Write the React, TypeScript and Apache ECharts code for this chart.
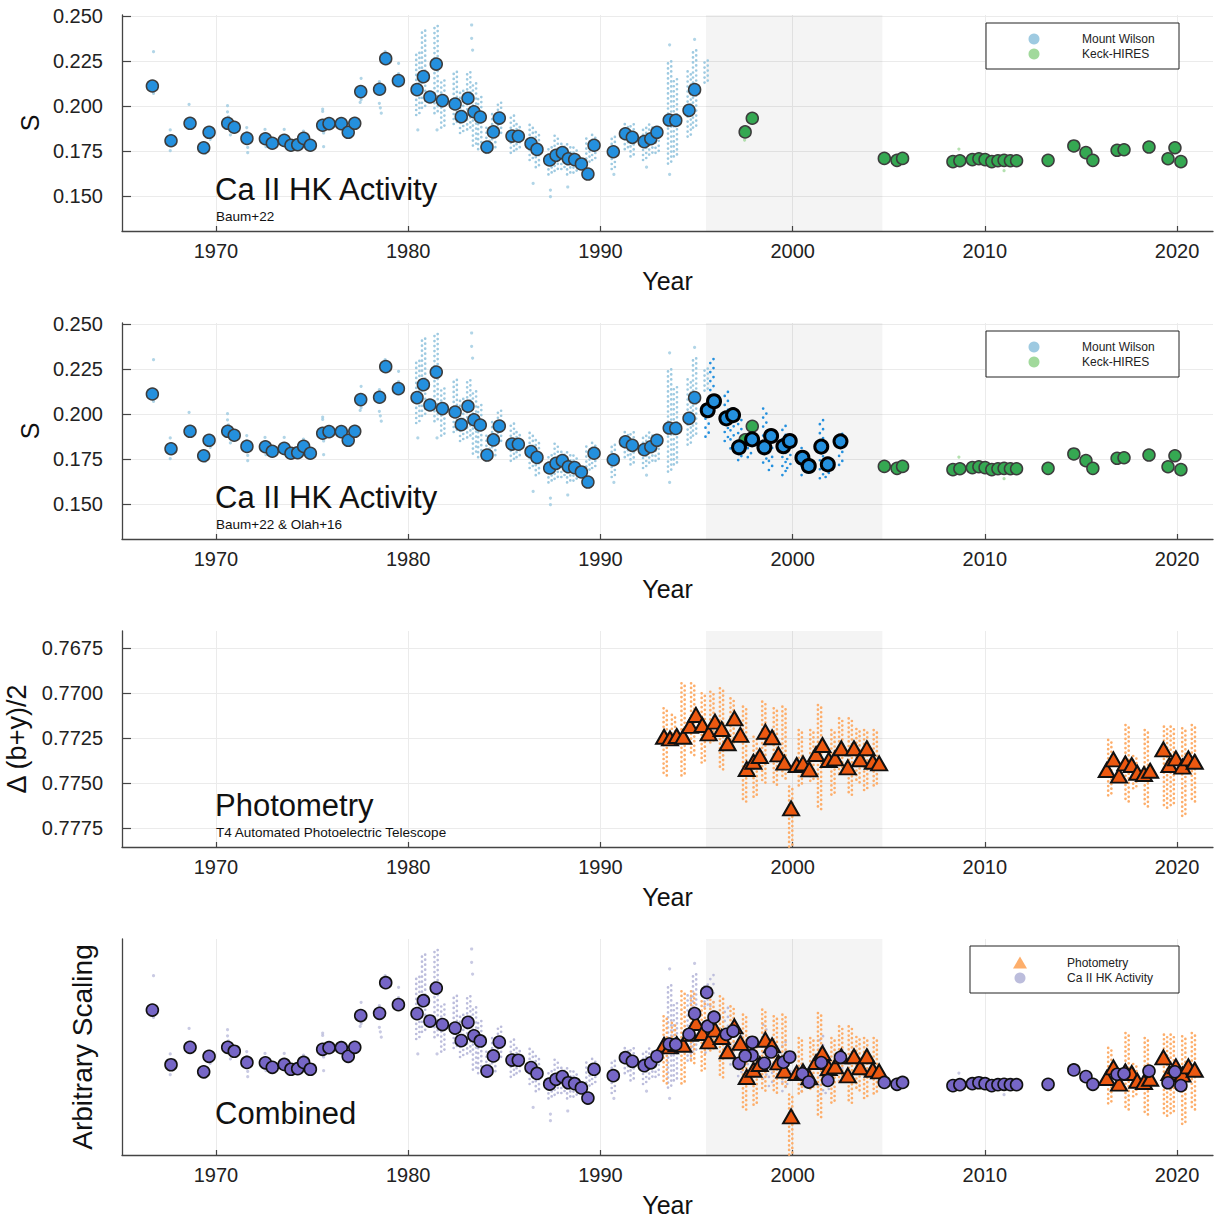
import React, { useEffect, useRef } from "react";
import * as echarts from "echarts";

// ---------- axes / ticks ----------
const X_MIN = 1965.11;
const X_MAX = 2021.87;
const X_TICKS = [1970, 1980, 1990, 2000, 2010, 2020];
const S_MIN = 0.13056;
const S_MAX = 0.25056;
const S_TICKS = [0.15, 0.175, 0.2, 0.225, 0.25];
const P_MIN = 0.766556;
const P_MAX = 0.778556;
const P_TICKS = [0.7675, 0.77, 0.7725, 0.775, 0.7775];
const SHADE = [1995.49, 2004.67];

// ---------- Mount Wilson (Baum+22) seasonal means [year, S] ----------
const MW_MEANS: [number, number][] = [
  [1966.69, 0.2111], [1967.66, 0.1807], [1968.65, 0.1904], [1969.36, 0.1768], [1969.64, 0.1854],
  [1970.61, 0.1904], [1970.95, 0.1882], [1971.61, 0.182], [1972.57, 0.1818], [1972.93, 0.1793],
  [1973.55, 0.1809], [1973.9, 0.1782], [1974.25, 0.1785], [1974.56, 0.182], [1974.91, 0.1782],
  [1975.55, 0.1893], [1975.88, 0.1902], [1976.52, 0.1902], [1976.88, 0.1854], [1977.22, 0.1904],
  [1977.53, 0.208], [1978.51, 0.2093], [1978.83, 0.2263], [1979.49, 0.2141], [1980.46, 0.2091],
  [1980.79, 0.2163], [1981.13, 0.205], [1981.46, 0.2233], [1981.78, 0.203], [1982.44, 0.2011],
  [1982.76, 0.1941], [1983.11, 0.2043], [1983.42, 0.1968], [1983.75, 0.1939], [1984.1, 0.1772],
  [1984.43, 0.1856], [1984.74, 0.1933], [1985.4, 0.1833], [1985.73, 0.1832], [1986.39, 0.1791],
  [1986.7, 0.1759], [1987.36, 0.17], [1987.69, 0.1726], [1988.02, 0.1741], [1988.33, 0.1707],
  [1988.66, 0.1702], [1989.01, 0.1678], [1989.35, 0.1622], [1989.67, 0.1782], [1990.67, 0.1746],
  [1991.3, 0.1846], [1991.66, 0.1826], [1992.28, 0.1802], [1992.62, 0.1818], [1992.94, 0.1854],
  [1993.58, 0.1922], [1993.92, 0.192], [1994.61, 0.1976], [1994.9, 0.2091],
];

// individual Mount Wilson nightly values (sparse seasons and outliers) [year, S]
const MW_DOTS: [number, number][] = [
  [1966.75, 0.2302], [1966.75, 0.207], [1967.62, 0.1867], [1967.62, 0.1752], [1968.6, 0.2009],
  [1969.45, 0.1737], [1969.7, 0.187], [1969.7, 0.1815], [1970.6, 0.2002], [1970.6, 0.1968],
  [1970.65, 0.194], [1970.75, 0.1839], [1971.6, 0.188], [1971.6, 0.1852], [1971.65, 0.177],
  [1971.65, 0.1741], [1972.55, 0.187], [1972.6, 0.1774], [1973.55, 0.187], [1973.6, 0.1774],
  [1974.55, 0.1861], [1974.6, 0.1774], [1975.55, 0.1983], [1975.55, 0.197], [1975.6, 0.185],
  [1975.6, 0.1774], [1976.5, 0.193], [1976.9, 0.183], [1977.55, 0.2154], [1977.55, 0.2035],
  [1977.5, 0.202], [1978.5, 0.2135], [1978.5, 0.2015], [1978.55, 0.199], [1978.6, 0.196],
  [1978.8, 0.2302], [1978.8, 0.2237], [1979.5, 0.2237], [1979.5, 0.218], [1980.5, 0.1867],
  [1981.5, 0.1867], [1983.3, 0.245], [1983.3, 0.2376], [1983.35, 0.2311], [1987.4, 0.1533],
  [1987.4, 0.1496], [1986.5, 0.157], [1988.3, 0.155], [1989.4, 0.162], [1990.7, 0.162],
  [1993.6, 0.162], [1993.6, 0.234], [1994.9, 0.237], [1992.4, 0.166],
];

// dense Mount Wilson seasons: [year, lowest S, highest S]
const MW_STRIPS: [number, number, number][] = [
  [1980.5, 0.195, 0.23], [1980.8, 0.199, 0.242], [1981.45, 0.196, 0.245], [1981.8, 0.188, 0.215],
  [1982.45, 0.19, 0.22], [1982.78, 0.185, 0.21], [1983.15, 0.187, 0.22], [1983.45, 0.178, 0.213],
  [1983.72, 0.176, 0.205], [1984.15, 0.174, 0.188], [1984.45, 0.176, 0.196], [1984.75, 0.184, 0.203],
  [1985.42, 0.174, 0.196], [1985.72, 0.176, 0.19], [1986.4, 0.17, 0.19], [1986.72, 0.166, 0.186],
  [1987.38, 0.162, 0.178], [1987.7, 0.164, 0.184], [1988.05, 0.165, 0.18], [1988.35, 0.162, 0.179],
  [1988.68, 0.163, 0.177], [1989.35, 0.168, 0.183], [1989.65, 0.17, 0.185], [1990.67, 0.165, 0.183],
  [1991.35, 0.176, 0.19], [1991.65, 0.172, 0.19], [1992.3, 0.17, 0.188], [1992.62, 0.173, 0.19],
  [1992.95, 0.174, 0.189], [1993.6, 0.168, 0.225], [1993.9, 0.172, 0.215], [1994.62, 0.183, 0.22],
  [1994.9, 0.188, 0.232], [1995.5, 0.213, 0.226],
];

// ---------- Keck-HIRES ----------
const KECK_MEANS: [number, number][] = [
  [1997.53, 0.1856], [1997.9, 0.1932], [2004.77, 0.1709], [2005.43, 0.1698], [2005.72, 0.1709],
  [2008.34, 0.1691], [2008.7, 0.1696], [2009.35, 0.1702], [2009.69, 0.1707], [2010.01, 0.1702],
  [2010.36, 0.1691], [2010.68, 0.1696], [2011.0, 0.1698], [2011.33, 0.1696], [2011.65, 0.1696],
  [2013.29, 0.1698], [2014.63, 0.1778], [2015.26, 0.1741], [2015.62, 0.1698], [2016.88, 0.1754],
  [2017.24, 0.1757], [2018.54, 0.1772], [2019.53, 0.1707], [2019.89, 0.1768], [2020.2, 0.1691],
];
const KECK_DOTS: [number, number][] = [[1997.5, 0.1811], [2008.65, 0.1761], [2011.0, 0.1641]];

// ---------- Olah+16 ----------
const OLAH_MEANS: [number, number][] = [
  [1995.58, 0.2021], [1995.91, 0.2071], [1996.55, 0.1976], [1996.9, 0.1994], [1997.21, 0.1815],
  [1997.89, 0.1859], [1998.53, 0.1815], [1998.88, 0.1878], [1999.52, 0.1821], [1999.85, 0.185],
  [2000.51, 0.1757], [2000.84, 0.1711], [2001.49, 0.1819], [2001.83, 0.172], [2002.49, 0.1848],
];
const OLAH_STRIPS: [number, number, number][] = [
  [1995.55, 0.1874, 0.2022], [1995.8, 0.2133, 0.2315], [1996.55, 0.185, 0.2143], [1996.85, 0.1809, 0.205],
  [1997.25, 0.1744, 0.1985], [1997.75, 0.176, 0.19], [1998.55, 0.173, 0.2041], [1998.85, 0.1689, 0.188],
  [1999.55, 0.1661, 0.1957], [1999.8, 0.17, 0.186], [2000.55, 0.1661, 0.1828], [2001.5, 0.1643, 0.1967],
  [2001.8, 0.165, 0.176], [2002.5, 0.1717, 0.1902],
];
// additional seasonal point shown only in the combined panel
const COMBINED_EXTRA: [number, number][] = [[1995.53, 0.2209]];

// ---------- T4 APT photometry, Δ(b+y)/2 ----------
const PHOT_MEANS: [number, number][] = [
  [1993.31, 0.77243], [1993.62, 0.77252], [1993.97, 0.77239], [1994.31, 0.77243], [1994.66, 0.77183],
  [1994.97, 0.77122], [1995.3, 0.77178], [1995.63, 0.77224], [1995.96, 0.77159], [1996.31, 0.772],
  [1996.62, 0.77279], [1996.97, 0.77141], [1997.28, 0.77233], [1997.61, 0.77422], [1997.96, 0.77382],
  [1998.29, 0.7735], [1998.58, 0.77215], [1998.93, 0.77246], [1999.26, 0.77341], [1999.57, 0.77387],
  [1999.92, 0.77641], [2000.21, 0.774], [2000.54, 0.77391], [2000.87, 0.77424], [2001.22, 0.77339],
  [2001.55, 0.77289], [2001.88, 0.77372], [2002.21, 0.77363], [2002.53, 0.77307], [2002.87, 0.77413],
  [2003.19, 0.77307], [2003.51, 0.77368], [2003.86, 0.77307], [2004.17, 0.77382], [2004.5, 0.77391],
  [2016.34, 0.77428], [2016.69, 0.77369], [2016.98, 0.77459], [2017.31, 0.77391], [2017.64, 0.774],
  [2017.93, 0.77443], [2018.28, 0.7745], [2018.6, 0.77432], [2019.29, 0.77313], [2019.6, 0.774],
  [2019.94, 0.77363], [2020.28, 0.77409], [2020.59, 0.77363], [2020.92, 0.77382],
];
const PHOT_STRIPS: [number, number, number][] = [
  [1993.37, 0.77085, 0.77465], [1993.8, 0.77122, 0.77289], [1994.3, 0.76946, 0.77465], [1994.8, 0.76946, 0.77354],
  [1995.35, 0.77002, 0.77391], [1995.8, 0.76993, 0.7728], [1996.3, 0.76974, 0.77428], [1996.85, 0.7703, 0.77298],
  [1997.5, 0.77076, 0.77613], [1998.05, 0.77243, 0.77576], [1998.5, 0.77048, 0.77502], [1999.1, 0.77085, 0.7752],
  [1999.55, 0.77076, 0.77483], [1999.9, 0.7752, 0.77854], [2000.4, 0.77206, 0.7752], [2001.0, 0.77206, 0.775],
  [2001.4, 0.77067, 0.7765], [2002.1, 0.77206, 0.77576], [2002.5, 0.77141, 0.7745], [2003.0, 0.77141, 0.77576],
  [2003.4, 0.772, 0.775], [2003.8, 0.77206, 0.7755], [2004.3, 0.77206, 0.7752],
  [2016.5, 0.77261, 0.77576], [2017.4, 0.77178, 0.77613], [2017.8, 0.7735, 0.7753], [2018.4, 0.77206, 0.77641],
  [2019.4, 0.77187, 0.77641], [2019.75, 0.77187, 0.7763], [2020.35, 0.77196, 0.77687], [2020.85, 0.77178, 0.77613],
];

// ---------- styling ----------
const FONT = '"Liberation Sans", Arial, Helvetica, sans-serif';
const C_MW_LIGHT = "#9ecae1";
const C_MW = "#2490de";
const C_KECK_LIGHT = "#a1d99b";
const C_KECK = "#35a852";
const C_PHOT_LIGHT = "#fdae6b";
const C_PHOT = "#ec5810";
const C_CA_LIGHT = "#bcbddc";
const C_CA = "#7666c6";
const GRID_TOPS = [15, 323, 631, 939];
const GRID_H = 216;
const GRID_LEFT = 122;
const GRID_W = 1091;

const stripRender = (color: string, gap: number) => (_p: any, api: any) => {
  const x = api.value(0);
  const a = api.coord([x, api.value(1)]);
  const b = api.coord([x, api.value(2)]);
  const mk = (dx: number, off: number) => ({
    type: "line",
    shape: { x1: a[0] + dx, y1: a[1], x2: b[0] + dx, y2: b[1] },
    style: { stroke: color, lineWidth: 2.7, lineDash: [0.01, gap], lineDashOffset: off, lineCap: "round", fill: null },
  });
  return { type: "group", children: [mk(-1.6, 0), mk(1.6, gap / 2)] };
};

const shade = {
  silent: true,
  itemStyle: { color: "rgba(0,0,0,0.045)" },
  data: [[{ xAxis: SHADE[0] }, { xAxis: SHADE[1] }]],
};

function stripSeries(data: any[], color: string, gap: number, xi: number, yi: number) {
  return {
    type: "custom",
    xAxisIndex: xi,
    yAxisIndex: yi,
    data,
    encode: { x: 0, y: [1, 2] },
    renderItem: stripRender(color, gap),
    silent: true,
  };
}
function dotSeries(data: any[], color: string, xi: number, yi: number, extra: any = {}) {
  return {
    type: "scatter",
    xAxisIndex: xi,
    yAxisIndex: yi,
    data,
    symbol: "circle",
    symbolSize: 3.2,
    itemStyle: { color },
    silent: true,
    ...extra,
  };
}
function markerSeries(data: any[], color: string, border: string, bw: number, xi: number, yi: number, symbol = "circle", size: any = 12) {
  return {
    type: "scatter",
    xAxisIndex: xi,
    yAxisIndex: yi,
    data,
    symbol,
    symbolSize: size,
    itemStyle: { color, borderColor: border, borderWidth: bw, opacity: 1 },
    silent: true,
  };
}

function xAxisCfg(gridIndex: number) {
  return {
    type: "value",
    gridIndex,
    min: X_MIN,
    max: X_MAX,
    name: "Year",
    nameLocation: "middle",
    nameGap: 37,
    nameTextStyle: { fontFamily: FONT, fontSize: 25, color: "#111" },
    axisLine: { show: true, onZero: false, lineStyle: { color: "#444", width: 1.3 } },
    axisTick: { show: true, inside: true, length: 5, customValues: X_TICKS, lineStyle: { color: "#444", width: 1.2 } },
    axisLabel: {
      show: true,
      customValues: X_TICKS,
      margin: 10,
      fontFamily: FONT,
      fontSize: 20,
      color: "#222",
      formatter: (v: number) => String(Math.round(v)),
    },
    splitLine: { show: true, lineStyle: { color: "#ebebeb", width: 1 } },
  };
}

function yAxisCfg(gridIndex: number, kind: "S" | "P" | "none" | "hidden") {
  const isP = kind === "P" || kind === "hidden";
  const ticks = isP ? P_TICKS : S_TICKS;
  const base: any = {
    type: "value",
    gridIndex,
    min: isP ? P_MIN : S_MIN,
    max: isP ? P_MAX : S_MAX,
    inverse: isP,
    axisLine: { show: kind !== "hidden", onZero: false, lineStyle: { color: "#444", width: 1.3 } },
    axisTick: {
      show: kind === "S" || kind === "P",
      inside: true,
      length: 9,
      customValues: ticks,
      lineStyle: { color: "#444", width: 1.2 },
    },
    axisLabel: {
      show: kind === "S" || kind === "P",
      customValues: ticks,
      margin: 19,
      fontFamily: FONT,
      fontSize: 20,
      color: "#222",
      formatter: (v: number) => (isP ? v.toFixed(4) : v.toFixed(3)),
    },
    splitLine: { show: kind === "S" || kind === "P", lineStyle: { color: "#ebebeb", width: 1 } },
  };
  if (kind === "S") {
    base.name = "S";
    base.nameLocation = "middle";
    base.nameGap = 79;
    base.nameTextStyle = { fontFamily: FONT, fontSize: 25, color: "#111" };
  } else if (kind === "P") {
    base.name = "Δ (b+y)/2";
    base.nameLocation = "middle";
    base.nameGap = 89;
    base.nameTextStyle = { fontFamily: FONT, fontSize: 27, color: "#111" };
  } else if (kind === "none") {
    base.name = "Arbitrary Scaling";
    base.nameLocation = "middle";
    base.nameGap = 26;
    base.nameTextStyle = { fontFamily: FONT, fontSize: 28, color: "#111" };
  }
  return base;
}

function txt(text: string, x: number, baseline: number, size: number) {
  return {
    type: "text",
    x,
    y: baseline - 0.35 * size,
    z: 50,
    silent: true,
    style: { text, fontFamily: FONT, fontSize: size, fill: "#111", align: "left", verticalAlign: "middle" },
  };
}

function legendBox(x: number, y: number, w: number, h: number, items: { label: string; color: string; shape: string; cy: number }[], markX: number, textX: number) {
  const children: any[] = [
    { type: "rect", shape: { x, y, width: w, height: h }, style: { fill: "#fff", stroke: "#222", lineWidth: 1 }, z: 40, silent: true },
  ];
  items.forEach((it) => {
    if (it.shape === "circle") {
      children.push({ type: "circle", shape: { cx: markX, cy: it.cy, r: 5.5 }, style: { fill: it.color }, z: 41, silent: true });
    } else {
      children.push({
        type: "polygon",
        shape: { points: [[markX, it.cy - 6.5], [markX + 7, it.cy + 5.5], [markX - 7, it.cy + 5.5]] },
        style: { fill: it.color },
        z: 41,
        silent: true,
      });
    }
    children.push({
      type: "text",
      x: textX,
      y: it.cy,
      z: 41,
      silent: true,
      style: { text: it.label, fontFamily: FONT, fontSize: 12, fill: "#222", align: "left", verticalAlign: "middle" },
    });
  });
  return children;
}

export default function App() {
  const ref = useRef<HTMLDivElement>(null);
  useEffect(() => {
    if (!ref.current) return;
    const chart = echarts.init(ref.current, undefined, { renderer: "svg" });
    const grids = GRID_TOPS.map((t) => ({
      left: GRID_LEFT,
      top: t,
      width: GRID_W,
      height: GRID_H,
      containLabel: false,
      outerBoundsMode: "none",
    }));

    const series: any[] = [
      // Panel 1
      { ...dotSeries(MW_DOTS, C_MW_LIGHT, 0, 0), markArea: shade },
      stripSeries(MW_STRIPS, C_MW_LIGHT, 5, 0, 0),
      dotSeries(KECK_DOTS, C_KECK_LIGHT, 0, 0),
      markerSeries(MW_MEANS, C_MW, "#3c3c3c", 1.5, 0, 0),
      markerSeries(KECK_MEANS, C_KECK, "#3c3c3c", 1.5, 0, 0),
      // Panel 2
      { ...dotSeries(MW_DOTS, C_MW_LIGHT, 1, 1), markArea: shade },
      stripSeries(MW_STRIPS, C_MW_LIGHT, 5, 1, 1),
      stripSeries(OLAH_STRIPS, C_MW, 9, 1, 1),
      dotSeries(KECK_DOTS, C_KECK_LIGHT, 1, 1),
      markerSeries(MW_MEANS, C_MW, "#3c3c3c", 1.5, 1, 1),
      markerSeries(KECK_MEANS, C_KECK, "#3c3c3c", 1.5, 1, 1),
      markerSeries(OLAH_MEANS, C_MW, "#000", 3, 1, 1, "circle", 13),
      // Panel 3
      { ...stripSeries(PHOT_STRIPS, C_PHOT_LIGHT, 4.6, 2, 2), markArea: shade },
      markerSeries(PHOT_MEANS, C_PHOT, "#111", 2, 2, 2, "triangle", [16, 14]),
      // Panel 4
      { ...dotSeries(MW_DOTS, C_CA_LIGHT, 3, 3), markArea: shade },
      stripSeries(MW_STRIPS, C_CA_LIGHT, 5, 3, 3),
      stripSeries(OLAH_STRIPS, C_CA_LIGHT, 9, 3, 3),
      dotSeries(KECK_DOTS, C_CA_LIGHT, 3, 3),
      stripSeries(PHOT_STRIPS, C_PHOT_LIGHT, 4.6, 3, 4),
      markerSeries(PHOT_MEANS, C_PHOT, "#111", 2, 3, 4, "triangle", [16, 14]),
      markerSeries(MW_MEANS, C_CA, "#111", 1.6, 3, 3),
      markerSeries(COMBINED_EXTRA, C_CA, "#111", 1.6, 3, 3),
      markerSeries(OLAH_MEANS, C_CA, "#111", 1.6, 3, 3),
      markerSeries(KECK_MEANS, C_CA, "#111", 1.6, 3, 3),
    ];

    const graphic: any[] = [
      txt("Ca II HK Activity", 215, 200.7, 31),
      txt("Baum+22", 216, 221, 13.5),
      txt("Ca II HK Activity", 215, 508.7, 31),
      txt("Baum+22 & Olah+16", 216, 529, 13.5),
      txt("Photometry", 215, 816.7, 31),
      txt("T4 Automated Photoelectric Telescope", 216, 837, 13.5),
      txt("Combined", 215, 1124.7, 31),
      ...legendBox(986, 23, 193, 46, [
        { label: "Mount Wilson", color: C_MW_LIGHT, shape: "circle", cy: 39 },
        { label: "Keck-HIRES", color: C_KECK_LIGHT, shape: "circle", cy: 54 },
      ], 1034, 1082),
      ...legendBox(986, 331, 193, 46, [
        { label: "Mount Wilson", color: C_MW_LIGHT, shape: "circle", cy: 347 },
        { label: "Keck-HIRES", color: C_KECK_LIGHT, shape: "circle", cy: 362 },
      ], 1034, 1082),
      ...legendBox(970, 946, 209, 47, [
        { label: "Photometry", color: C_PHOT_LIGHT, shape: "triangle", cy: 963 },
        { label: "Ca II HK Activity", color: C_CA_LIGHT, shape: "circle", cy: 978 },
      ], 1020, 1067),
    ];

    chart.setOption({
      animation: false,
      backgroundColor: "#fff",
      textStyle: { fontFamily: FONT },
      grid: grids,
      xAxis: [xAxisCfg(0), xAxisCfg(1), xAxisCfg(2), xAxisCfg(3)],
      yAxis: [yAxisCfg(0, "S"), yAxisCfg(1, "S"), yAxisCfg(2, "P"), yAxisCfg(3, "none"), yAxisCfg(3, "hidden")],
      series,
      graphic,
    });
    return () => chart.dispose();
  }, []);
  return <div ref={ref} style={{ position: "absolute", left: 0, top: 0, width: 1215, height: 1220 }} />;
}
